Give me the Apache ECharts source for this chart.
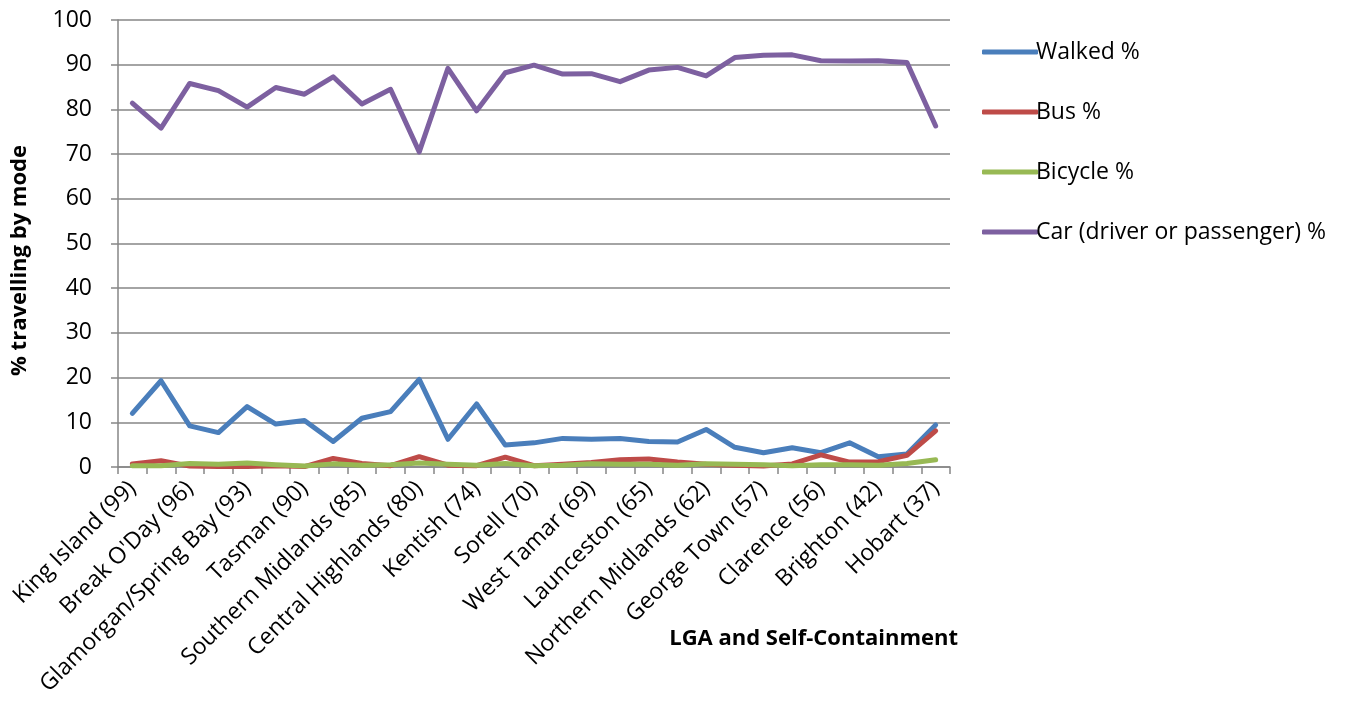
<!DOCTYPE html>
<html>
<head>
<meta charset="utf-8">
<script src="https://cdn.jsdelivr.net/npm/echarts@6/dist/echarts.min.js"></script>
<style>html,body{margin:0;padding:0;background:#fff;}#c{width:1347px;height:709px;}</style>
</head>
<body>
<div id="c"></div>
<script>
const categories = [
  "King Island (99)", "Flinders", "Break O'Day (96)", "West Coast", "Glamorgan/Spring Bay (93)",
  "Circular Head", "Tasman (90)", "Dorset", "Southern Midlands (85)", "Burnie",
  "Central Highlands (80)", "Devonport", "Kentish (74)", "Huon Valley", "Sorell (70)",
  "Waratah/Wynyard", "West Tamar (69)", "Derwent Valley", "Launceston (65)", "Central Coast",
  "Northern Midlands (62)", "Meander Valley", "George Town (57)", "Latrobe", "Clarence (56)",
  "Kingborough", "Brighton (42)", "Glenorchy", "Hobart (37)"
];
const walked = [12.0, 19.3, 9.2, 7.7, 13.5, 9.6, 10.4, 5.7, 10.9, 12.4,
  19.6, 6.2, 14.1, 4.9, 5.4, 6.4, 6.2, 6.4, 5.7, 5.6,
  8.4, 4.4, 3.2, 4.3, 3.2, 5.4, 2.3, 2.9, 9.4];
const bus = [0.7, 1.4, 0.2, 0.1, 0.1, 0.3, 0.1, 1.9, 0.8, 0.3,
  2.3, 0.4, 0.3, 2.2, 0.3, 0.6, 1.0, 1.6, 1.8, 1.1,
  0.6, 0.4, 0.2, 0.7, 2.7, 1.1, 1.2, 2.6, 8.1];
const bicycle = [0.3, 0.3, 0.8, 0.6, 0.9, 0.5, 0.2, 0.7, 0.4, 0.5,
  0.9, 0.6, 0.4, 0.8, 0.3, 0.4, 0.7, 0.6, 0.6, 0.4,
  0.7, 0.6, 0.5, 0.3, 0.5, 0.5, 0.4, 0.8, 1.6];
const car = [81.4, 75.8, 85.8, 84.2, 80.5, 84.9, 83.4, 87.3, 81.2, 84.5,
  70.5, 89.2, 79.7, 88.2, 89.9, 87.9, 88.0, 86.2, 88.8, 89.4,
  87.5, 91.6, 92.1, 92.2, 90.9, 90.8, 90.9, 90.5, 76.3];
const yTicks = { min: 0, max: 100, interval: 10 };
const seriesNames = ["Walked %", "Bus %", "Bicycle %", "Car (driver or passenger) %"];
const colors = ["#4A7EBB", "#BE4B48", "#98B954", "#7D60A0"];

const FONT = "'Open Sans', 'Noto Sans', sans-serif";
const chart = echarts.init(document.getElementById('c'));
const mk = (name, data, color) => ({
  name, type: 'line', data, symbol: 'none', color,
  lineStyle: { width: 5, color, cap: 'round', join: 'round' },
  animation: false
});
chart.setOption({
  backgroundColor: '#fff',
  animation: false,
  grid: { left: 118, right: 397, top: 20, bottom: 242, containLabel: false },
  legend: {
    orient: 'vertical', left: 977, top: 35,
    icon: 'roundRect',
    itemWidth: 56, itemHeight: 5, itemGap: 36,
    textStyle: { fontFamily: FONT, fontSize: 23, lineHeight: 24, color: '#000', padding: [0,0,0,-7] },
    data: seriesNames
  },
  xAxis: {
    type: 'category', data: categories, boundaryGap: true,
    axisLine: { lineStyle: { color: '#868686', width: 1.5 } },
    axisTick: { show: true, length: 7, interval: 0, lineStyle: { color: '#868686', width: 1.5 } },
    axisLabel: { interval: 1, rotate: 45, fontFamily: FONT, fontSize: 23, color: '#000', margin: 18 },
    splitLine: { show: false }
  },
  yAxis: {
    type: 'value', min: yTicks.min, max: yTicks.max, interval: yTicks.interval,
    axisLine: { show: true, lineStyle: { color: '#868686', width: 1.5 } },
    axisTick: { show: true, length: 7, inside: false, lineStyle: { color: '#868686', width: 1.5 } },
    axisLabel: { fontFamily: FONT, fontSize: 23, color: '#000', margin: 26 },
    splitLine: { lineStyle: { color: '#868686', width: 1.5 } }
  },
  graphic: [
    { type: 'text', left: 9, top: 145, rotation: Math.PI / 2,
      style: { text: '% travelling by mode', font: "bold 22px 'Open Sans', sans-serif", fill: '#000' } },
    { type: 'text', right: 389, top: 628,
      style: { text: 'LGA and Self-Containment', font: "bold 22px 'Open Sans', sans-serif", fill: '#000' } }
  ],
  series: [
    mk(seriesNames[0], walked, colors[0]),
    mk(seriesNames[1], bus, colors[1]),
    mk(seriesNames[2], bicycle, colors[2]),
    mk(seriesNames[3], car, colors[3])
  ]
});
</script>
</body>
</html>
